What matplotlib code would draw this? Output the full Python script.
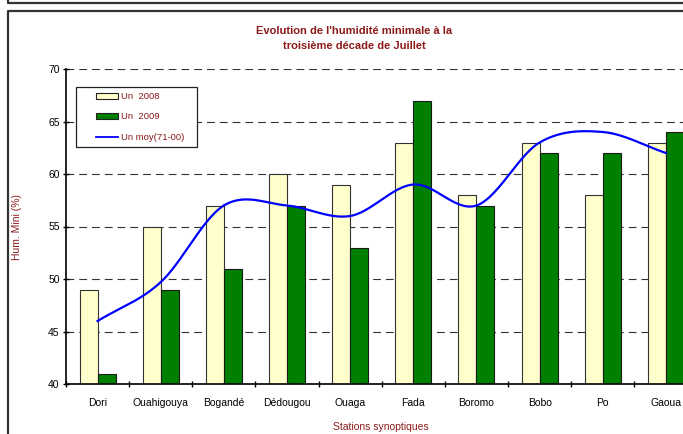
import numpy as np
import matplotlib
matplotlib.use("Agg")
import matplotlib.pyplot as plt
from matplotlib.patches import Patch, Rectangle
from matplotlib.lines import Line2D

stations = ["Dori", "Ouahigouya", "Bogandé", "Dédougou", "Ouaga",
            "Fada", "Boromo", "Bobo", "Po", "Gaoua"]
hum_2008 = [49, 55, 57, 60, 59, 63, 58, 63, 58, 63]
hum_2009 = [41, 49, 51, 57, 53, 67, 57, 62, 62, 64]
hum_normale = [46, 49.7, 57, 57, 56, 59, 57, 63, 64, 62]

W, H = 683, 434
DARK_RED = "#8B1A1A"
plt.rcParams["font.family"] = ["Liberation Sans", "DejaVu Sans"]


def fx(px):
    return px / W


def fy(py):
    return 1 - py / H


def smooth(xs, ys, n=30):
    # Catmull-Rom curve through the points (like Excel's smoothed line)
    xs = np.asarray(xs, float)
    ys = np.asarray(ys, float)
    px = np.concatenate([[2 * xs[0] - xs[1]], xs, [2 * xs[-1] - xs[-2]]])
    py = np.concatenate([[2 * ys[0] - ys[1]], ys, [2 * ys[-1] - ys[-2]]])
    out_x, out_y = [], []
    t = np.linspace(0, 1, n)
    for i in range(1, len(px) - 2):
        for p, out in ((px, out_x), (py, out_y)):
            p0, p1, p2, p3 = p[i - 1], p[i], p[i + 1], p[i + 2]
            seg = 0.5 * ((2 * p1) + (-p0 + p2) * t
                         + (2 * p0 - 5 * p1 + 4 * p2 - p3) * t ** 2
                         + (-p0 + 3 * p1 - 3 * p2 + p3) * t ** 3)
            out.extend(seg)
    return np.array(out_x), np.array(out_y)


fig = plt.figure(figsize=(W / 100, H / 100), dpi=100)

# chart frames
frame = dict(color="#333333", lw=1.6, transform=fig.transFigure)
fig.add_artist(Line2D([fx(7.7), fx(7.7), fx(W)], [fy(0), fy(2.7), fy(2.7)], **frame))
fig.add_artist(Line2D([fx(7.7), fx(7.7), fx(W)], [fy(H), fy(11), fy(11)], **frame))

ax = fig.add_axes([fx(66), fy(384), fx(631.5), (384 - 69) / H])

x = np.arange(len(stations))
bw = 0.285
ax.bar(x - bw / 2, hum_2008, bw, color="#FFFFCC",
       edgecolor="#333333", linewidth=0.8, zorder=2)
ax.bar(x + bw / 2, hum_2009, bw, color="#008000",
       edgecolor="#1a1a1a", linewidth=0.8, zorder=2)
sx, sy = smooth(x, hum_normale)
ax.plot(sx, sy, color="#0000FF", lw=1.6, zorder=3)

ax.set_xlim(-0.5, len(stations) - 0.5)
ax.set_ylim(40, 70)
ax.set_yticks(range(40, 71, 5))
ax.set_xticks(x)
ax.set_xticklabels(stations)
ax.set_xticks(np.arange(len(stations) + 1) - 0.5, minor=True)
ax.tick_params(axis="x", which="major", length=0, pad=10, labelsize=7.5)
ax.tick_params(axis="x", which="minor", direction="inout", length=5, width=1)
ax.tick_params(axis="y", direction="inout", length=5, width=1, labelsize=7.5,
               pad=2)
for s in ("top", "right"):
    ax.spines[s].set_visible(False)
for s in ("left", "bottom"):
    ax.spines[s].set_linewidth(1.2)
    ax.spines[s].set_zorder(4)
ax.yaxis.grid(True, color="#333333", lw=0.8, linestyle=(0, (7, 4.5)), zorder=0)
ax.set_axisbelow(True)

# legend box, drawn separately for its wide side margins
ax.add_patch(Rectangle((fx(76), fy(147)), fx(121), (147 - 87) / H,
                       transform=fig.transFigure, facecolor="white",
                       edgecolor="#222222", lw=0.9, zorder=4.5, clip_on=False))
legend = ax.legend(
    handles=[Patch(facecolor="#FFFFCC", edgecolor="#222222", lw=0.8),
             Patch(facecolor="#008000", edgecolor="#222222", lw=0.8),
             Line2D([], [], color="#0000FF", lw=1.3)],
    labels=["Un  2008", "Un  2009", "Un moy(71-00)"],
    loc="upper left", bbox_to_anchor=(fx(96), fy(92)),
    bbox_transform=fig.transFigure, fontsize=6.8, frameon=False,
    handlelength=2.35, handleheight=0.55, handletextpad=0.3,
    labelspacing=1.2, borderpad=0, borderaxespad=0)
legend.set_zorder(5)
for t in legend.get_texts():
    t.set_color(DARK_RED)

fig.text(fx(354), fy(30.7), "Evolution de l'humidité minimale à la",
         ha="center", va="center", fontsize=8, fontweight="bold",
         color=DARK_RED)
fig.text(fx(354), fy(45.7), "troisième décade de Juillet",
         ha="center", va="center", fontsize=8, fontweight="bold",
         color=DARK_RED)
fig.text(fx(17.5), fy(227), "Hum. Mini (%)", rotation=90, ha="center",
         va="center", fontsize=7.5, color=DARK_RED)
fig.text(fx(381), fy(426.7), "Stations synoptiques", ha="center",
         va="center", fontsize=7.5, color=DARK_RED)

fig.savefig("out.png", dpi=100)
